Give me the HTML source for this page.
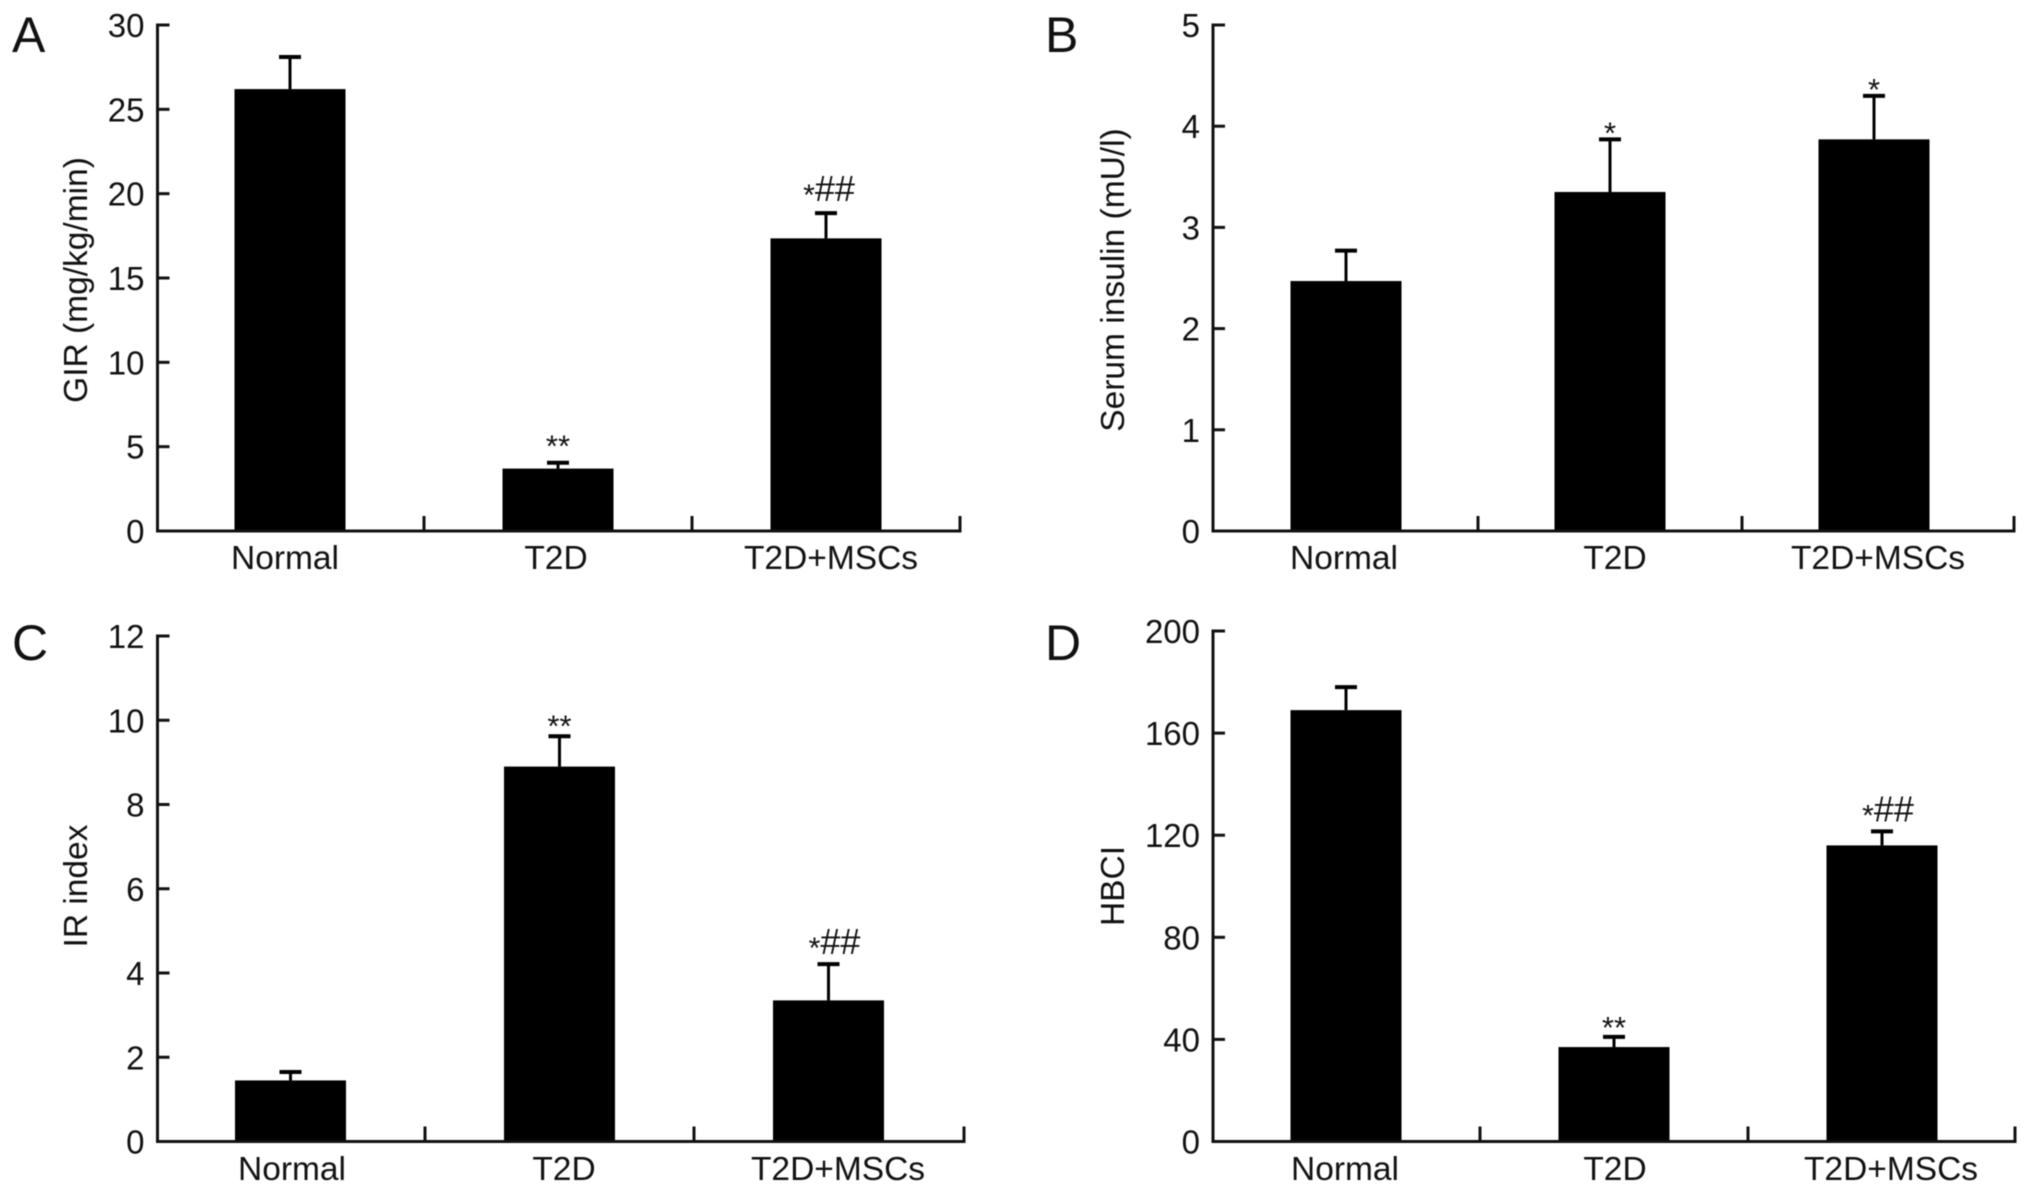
<!DOCTYPE html>
<html lang="en">
<head>
<meta charset="utf-8">
<title>GIR, serum insulin, IR index and HBCI bar charts</title>
<style>
html,body{margin:0;padding:0;background:#fff;width:2032px;height:1193px;overflow:hidden}
svg{display:block;filter:blur(0.6px)}
text{font-family:"Liberation Sans",Arial,sans-serif;fill:#111}
</style>
</head>
<body>
<svg id="figure" xmlns="http://www.w3.org/2000/svg" width="2032" height="1193" viewBox="0 0 2032 1193"></svg>
<script>
const categories = ['Normal', 'T2D', 'T2D+MSCs'];

const panelATicks = [0, 5, 10, 15, 20, 25, 30];
const panelAValues = [26.2, 3.7, 17.35];
const panelAErrors = [1.9, 0.35, 1.5];
const panelAMarks = ['', '**', '*##'];

const panelBTicks = [0, 1, 2, 3, 4, 5];
const panelBValues = [2.47, 3.35, 3.87];
const panelBErrors = [0.3, 0.52, 0.43];
const panelBMarks = ['', '*', '*'];

const panelCTicks = [0, 2, 4, 6, 8, 10, 12];
const panelCValues = [1.45, 8.9, 3.35];
const panelCErrors = [0.2, 0.72, 0.86];
const panelCMarks = ['', '**', '*##'];

const panelDTicks = [0, 40, 80, 120, 160, 200];
const panelDValues = [169, 37, 116];
const panelDErrors = [9, 4, 5.5];
const panelDMarks = ['', '**', '*##'];

const NS = 'http://www.w3.org/2000/svg';
const svg = document.getElementById('figure');

function make(parent, tag, attrs, text) {
  const el = document.createElementNS(NS, tag);
  for (const k in attrs) el.setAttribute(k, attrs[k]);
  if (text !== undefined) el.textContent = text;
  parent.appendChild(el);
  return el;
}

function drawPanel(p) {
  const g = make(svg, 'g', {});
  
  

  const maxTick = p.ticks[p.ticks.length - 1];
  const yScale = v => p.y0 - (v / maxTick) * (p.y0 - p.yTop);
  const xCenter = i => p.barStart + i * p.barStep;
  const sep = i => i < categories.length - 1 ? xCenter(i) + p.barStep / 2 : p.xEnd;

  // panel letter
  const letter = make(g, 'text', {x: p.letterX, y: p.letterY, 'font-size': 50}, p.id);
  
  

  // y axis title
  const title = make(g, 'text', {
    x: p.titleX, y: p.titleY, 'font-size': 33.5, 'text-anchor': 'middle',
    transform: 'rotate(-90 ' + p.titleX + ' ' + p.titleY + ')'
  }, p.title);
  
  

  // bars and error bars
  categories.forEach((c, i) => {
    const cx = xCenter(i);
    const top = yScale(p.values[i]);
    const errTop = yScale(p.values[i] + p.errors[i]);

    const stem = make(g, 'line', {x1: cx, x2: cx, y1: top, y2: errTop, stroke: '#000', 'stroke-width': 3});
    
    

    const cap = make(g, 'line', {x1: cx - 11, x2: cx + 11, y1: errTop, y2: errTop, stroke: '#000', 'stroke-width': 4});
    
    

    const bar = make(g, 'rect', {x: cx - p.barWidth / 2, y: top, width: p.barWidth, height: p.y0 - top, fill: '#000'});
    
    

    const mark = p.marks[i];
    if (mark) {
      const t = make(g, 'text', {'text-anchor': 'middle', 'font-size': 30});
      
      
      if (mark.indexOf('#') >= 0) {
        const base = errTop - 10 - (p.hashExtra || 0);
        t.setAttribute('x', cx + p.hashShift);
        t.setAttribute('y', base);
        make(t, 'tspan', {dy: 4, 'font-size': 30}, '*');
        make(t, 'tspan', {dy: -4, 'font-size': 36}, '##');
      } else {
        const lift = mark.length === 2 ? 15 + (p.markExtra || 0) : 13;
        t.setAttribute('x', cx);
        t.setAttribute('y', errTop - lift + 17);
        t.setAttribute('font-size', 31);
        t.textContent = mark;
      }
    }
  });

  // y axis
  const yAxis = make(g, 'line', {x1: p.x0, x2: p.x0, y1: p.yTop - 1.5, y2: p.y0 + 1.5, stroke: '#111', 'stroke-width': 3});
  
  

  p.ticks.forEach(v => {
    const y = yScale(v);
    const tick = make(g, 'line', {x1: p.x0, x2: p.x0 + 12, y1: y, y2: y, stroke: '#111', 'stroke-width': 3});
    
    
    const lab = make(g, 'text', {x: p.x0 - 13, y: y + 12, 'font-size': 33, 'text-anchor': 'end'}, String(v));
    
    
  });

  // x axis
  const xAxis = make(g, 'line', {x1: p.x0, x2: p.xEnd + 1.5, y1: p.y0, y2: p.y0, stroke: '#111', 'stroke-width': 3});
  
  

  categories.forEach((c, i) => {
    const x = sep(i);
    const tick = make(g, 'line', {x1: x, x2: x, y1: p.y0, y2: p.y0 - 15, stroke: '#111', 'stroke-width': 3});
    
    
    const lab = make(g, 'text', {
      x: p.labelStart + i * p.labelStep + (i === 1 ? p.labelMidShift : 0), y: p.labelY,
      'font-size': 33.5, 'text-anchor': 'middle'
    }, c);
    
    
  });
}

drawPanel({
  id: 'A', title: 'GIR (mg/kg/min)', ticks: panelATicks, values: panelAValues, errors: panelAErrors, marks: panelAMarks,
  x0: 157.5, xEnd: 960, yTop: 25, y0: 531, barStart: 290, barStep: 268, barWidth: 111, markExtra: 8, hashExtra: 2, hashShift: 3,
  letterX: 12, letterY: 52, titleX: 87, titleY: 280, labelStart: 285, labelStep: 273, labelMidShift: -2, labelY: 569
});
drawPanel({
  id: 'B', title: 'Serum insulin (mU/l)', ticks: panelBTicks, values: panelBValues, errors: panelBErrors, marks: panelBMarks,
  x0: 1213, xEnd: 2014, yTop: 25, y0: 531, barStart: 1346, barStep: 264, barWidth: 111, hashShift: 2,
  letterX: 1045, letterY: 52, titleX: 1124, titleY: 280, labelStart: 1344, labelStep: 267, labelMidShift: 4, labelY: 569
});
drawPanel({
  id: 'C', title: 'IR index', ticks: panelCTicks, values: panelCValues, errors: panelCErrors, marks: panelCMarks,
  x0: 157.5, xEnd: 964, yTop: 636, y0: 1141.5, barStart: 290.5, barStep: 269, barWidth: 111, markExtra: 2, hashShift: 6,
  letterX: 12, letterY: 660, titleX: 87, titleY: 886, labelStart: 292, labelStep: 273, labelMidShift: -1, labelY: 1180
});
drawPanel({
  id: 'D', title: 'HBCI', ticks: panelDTicks, values: panelDValues, errors: panelDErrors, marks: panelDMarks,
  x0: 1213, xEnd: 2015, yTop: 631, y0: 1141.5, barStart: 1346, barStep: 268, barWidth: 111, markExtra: 1, hashShift: 6,
  letterX: 1045, letterY: 660, titleX: 1124, titleY: 886, labelStart: 1345, labelStep: 273, labelMidShift: -3, labelY: 1180
});
</script>
</body>
</html>
